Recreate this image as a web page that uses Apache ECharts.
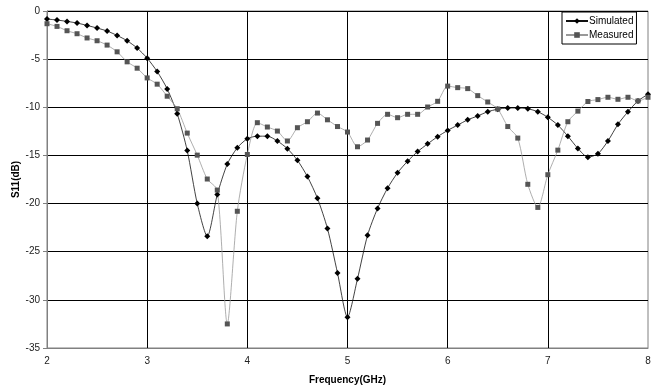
<!DOCTYPE html>
<html>
<head>
<meta charset="utf-8">
<script src="https://cdn.jsdelivr.net/npm/echarts@6/dist/echarts.min.js"></script>
<style>html,body{margin:0;padding:0;background:#fff}#c{width:657px;height:387px}</style>
</head>
<body>
<div id="c"></div>
<script>
const freq = [2.0,2.1,2.2,2.3,2.4,2.5,2.6,2.7,2.8,2.9,3.0,3.1,3.2,3.3,3.4,3.5,3.6,3.7,3.8,3.9,4.0,4.1,4.2,4.3,4.4,4.5,4.6,4.7,4.8,4.9,5.0,5.1,5.2,5.3,5.4,5.5,5.6,5.7,5.8,5.9,6.0,6.1,6.2,6.3,6.4,6.5,6.6,6.7,6.8,6.9,7.0,7.1,7.2,7.3,7.4,7.5,7.6,7.7,7.8,7.9,8.0];
const simulated = [-0.83,-0.94,-1.08,-1.25,-1.5,-1.77,-2.08,-2.54,-3.09,-3.85,-4.9,-6.29,-8.09,-10.66,-14.5,-20.0,-23.4,-19.06,-15.9,-14.2,-13.27,-13.0,-13.0,-13.5,-14.3,-15.5,-17.2,-19.45,-22.6,-27.2,-31.8,-27.8,-23.3,-20.5,-18.4,-16.8,-15.6,-14.6,-13.8,-13.05,-12.4,-11.85,-11.3,-10.9,-10.46,-10.2,-10.07,-10.07,-10.15,-10.46,-11.04,-11.85,-13.0,-14.27,-15.18,-14.83,-13.5,-11.77,-10.46,-9.34,-8.65];
const measured = [-1.32,-1.6,-2.05,-2.36,-2.8,-3.09,-3.54,-4.24,-5.28,-5.94,-6.95,-7.6,-8.85,-10.15,-12.68,-14.97,-17.45,-18.6,-32.5,-20.8,-14.9,-11.6,-12.05,-12.47,-13.5,-12.12,-11.5,-10.6,-11.3,-12.0,-12.57,-14.1,-13.4,-11.67,-10.73,-11.08,-10.73,-10.73,-9.97,-9.38,-7.8,-7.96,-8.06,-8.79,-9.45,-10.18,-12.0,-13.2,-18.0,-20.4,-17.0,-14.45,-11.5,-10.4,-9.4,-9.2,-8.96,-9.17,-8.96,-9.34,-8.96];
const seriesNames = ['Simulated','Measured'];
const xName = 'Frequency(GHz)';
const yName = 'S11(dB)';

const font = 'Liberation Sans, Arial, sans-serif';
const chart = echarts.init(document.getElementById('c'), null, {renderer:'canvas'});
chart.setOption({
  animation:false,
  backgroundColor:'#fff',
  textStyle:{fontFamily:font},
  grid:{left:47,right:9,top:11,bottom:39,containLabel:false,outerBoundsMode:'none',show:true,borderColor:'#808080',borderWidth:1,backgroundColor:'transparent'},
  legend:{
    orient:'vertical', left:562, top:12,
    backgroundColor:'#fff', borderColor:'#000', borderWidth:1,
    padding:[4,3,4,3], itemGap:4, itemWidth:22, itemHeight:7,
    textStyle:{fontFamily:font,fontSize:10,color:'#000',padding:[0,0,0,-4]},
    data:seriesNames
  },
  xAxis:{
    type:'value', min:2, max:8, interval:1,
    name:xName, nameLocation:'middle', nameGap:27, nameMoveOverlap:false,
    nameTextStyle:{fontFamily:font,fontSize:10,fontWeight:'bold',color:'#000'},
    axisLine:{show:true,onZero:false,lineStyle:{color:'#808080',width:1}},
    axisTick:{show:false},
    axisLabel:{fontFamily:font,fontSize:10,color:'#222',margin:8},
    splitLine:{show:true,showMinLine:false,showMaxLine:false,lineStyle:{color:'#000',width:1}}
  },
  yAxis:{
    type:'value', min:-35, max:0, interval:5,
    name:yName, nameLocation:'middle', nameGap:26, nameRotate:90, nameMoveOverlap:false,
    nameTextStyle:{fontFamily:font,fontSize:10,fontWeight:'bold',color:'#000'},
    axisLine:{show:true,lineStyle:{color:'#808080',width:1}},
    axisTick:{show:true,inside:false,length:4,lineStyle:{color:'#808080'}},
    axisLabel:{fontFamily:font,fontSize:10,color:'#222',margin:7},
    splitLine:{show:true,showMinLine:false,showMaxLine:true,lineStyle:{color:'#000',width:1}}
  },
  series:[
    {
      name:seriesNames[0], type:'line', smooth:0.25,
      data:freq.map((f,i)=>[f,simulated[i]]),
      symbol:'diamond', symbolSize:6, showAllSymbol:true,
      lineStyle:{color:'#111',width:0.8},
      itemStyle:{color:'#000',borderWidth:0}
    },
    {
      name:seriesNames[1], type:'line', smooth:0.25,
      data:freq.map((f,i)=>[f,measured[i]]),
      symbol:'rect', symbolSize:5, showAllSymbol:true,
      lineStyle:{color:'#999',width:0.8},
      itemStyle:{color:'#555',borderWidth:0}
    }
  ]
});
</script>
</body>
</html>
